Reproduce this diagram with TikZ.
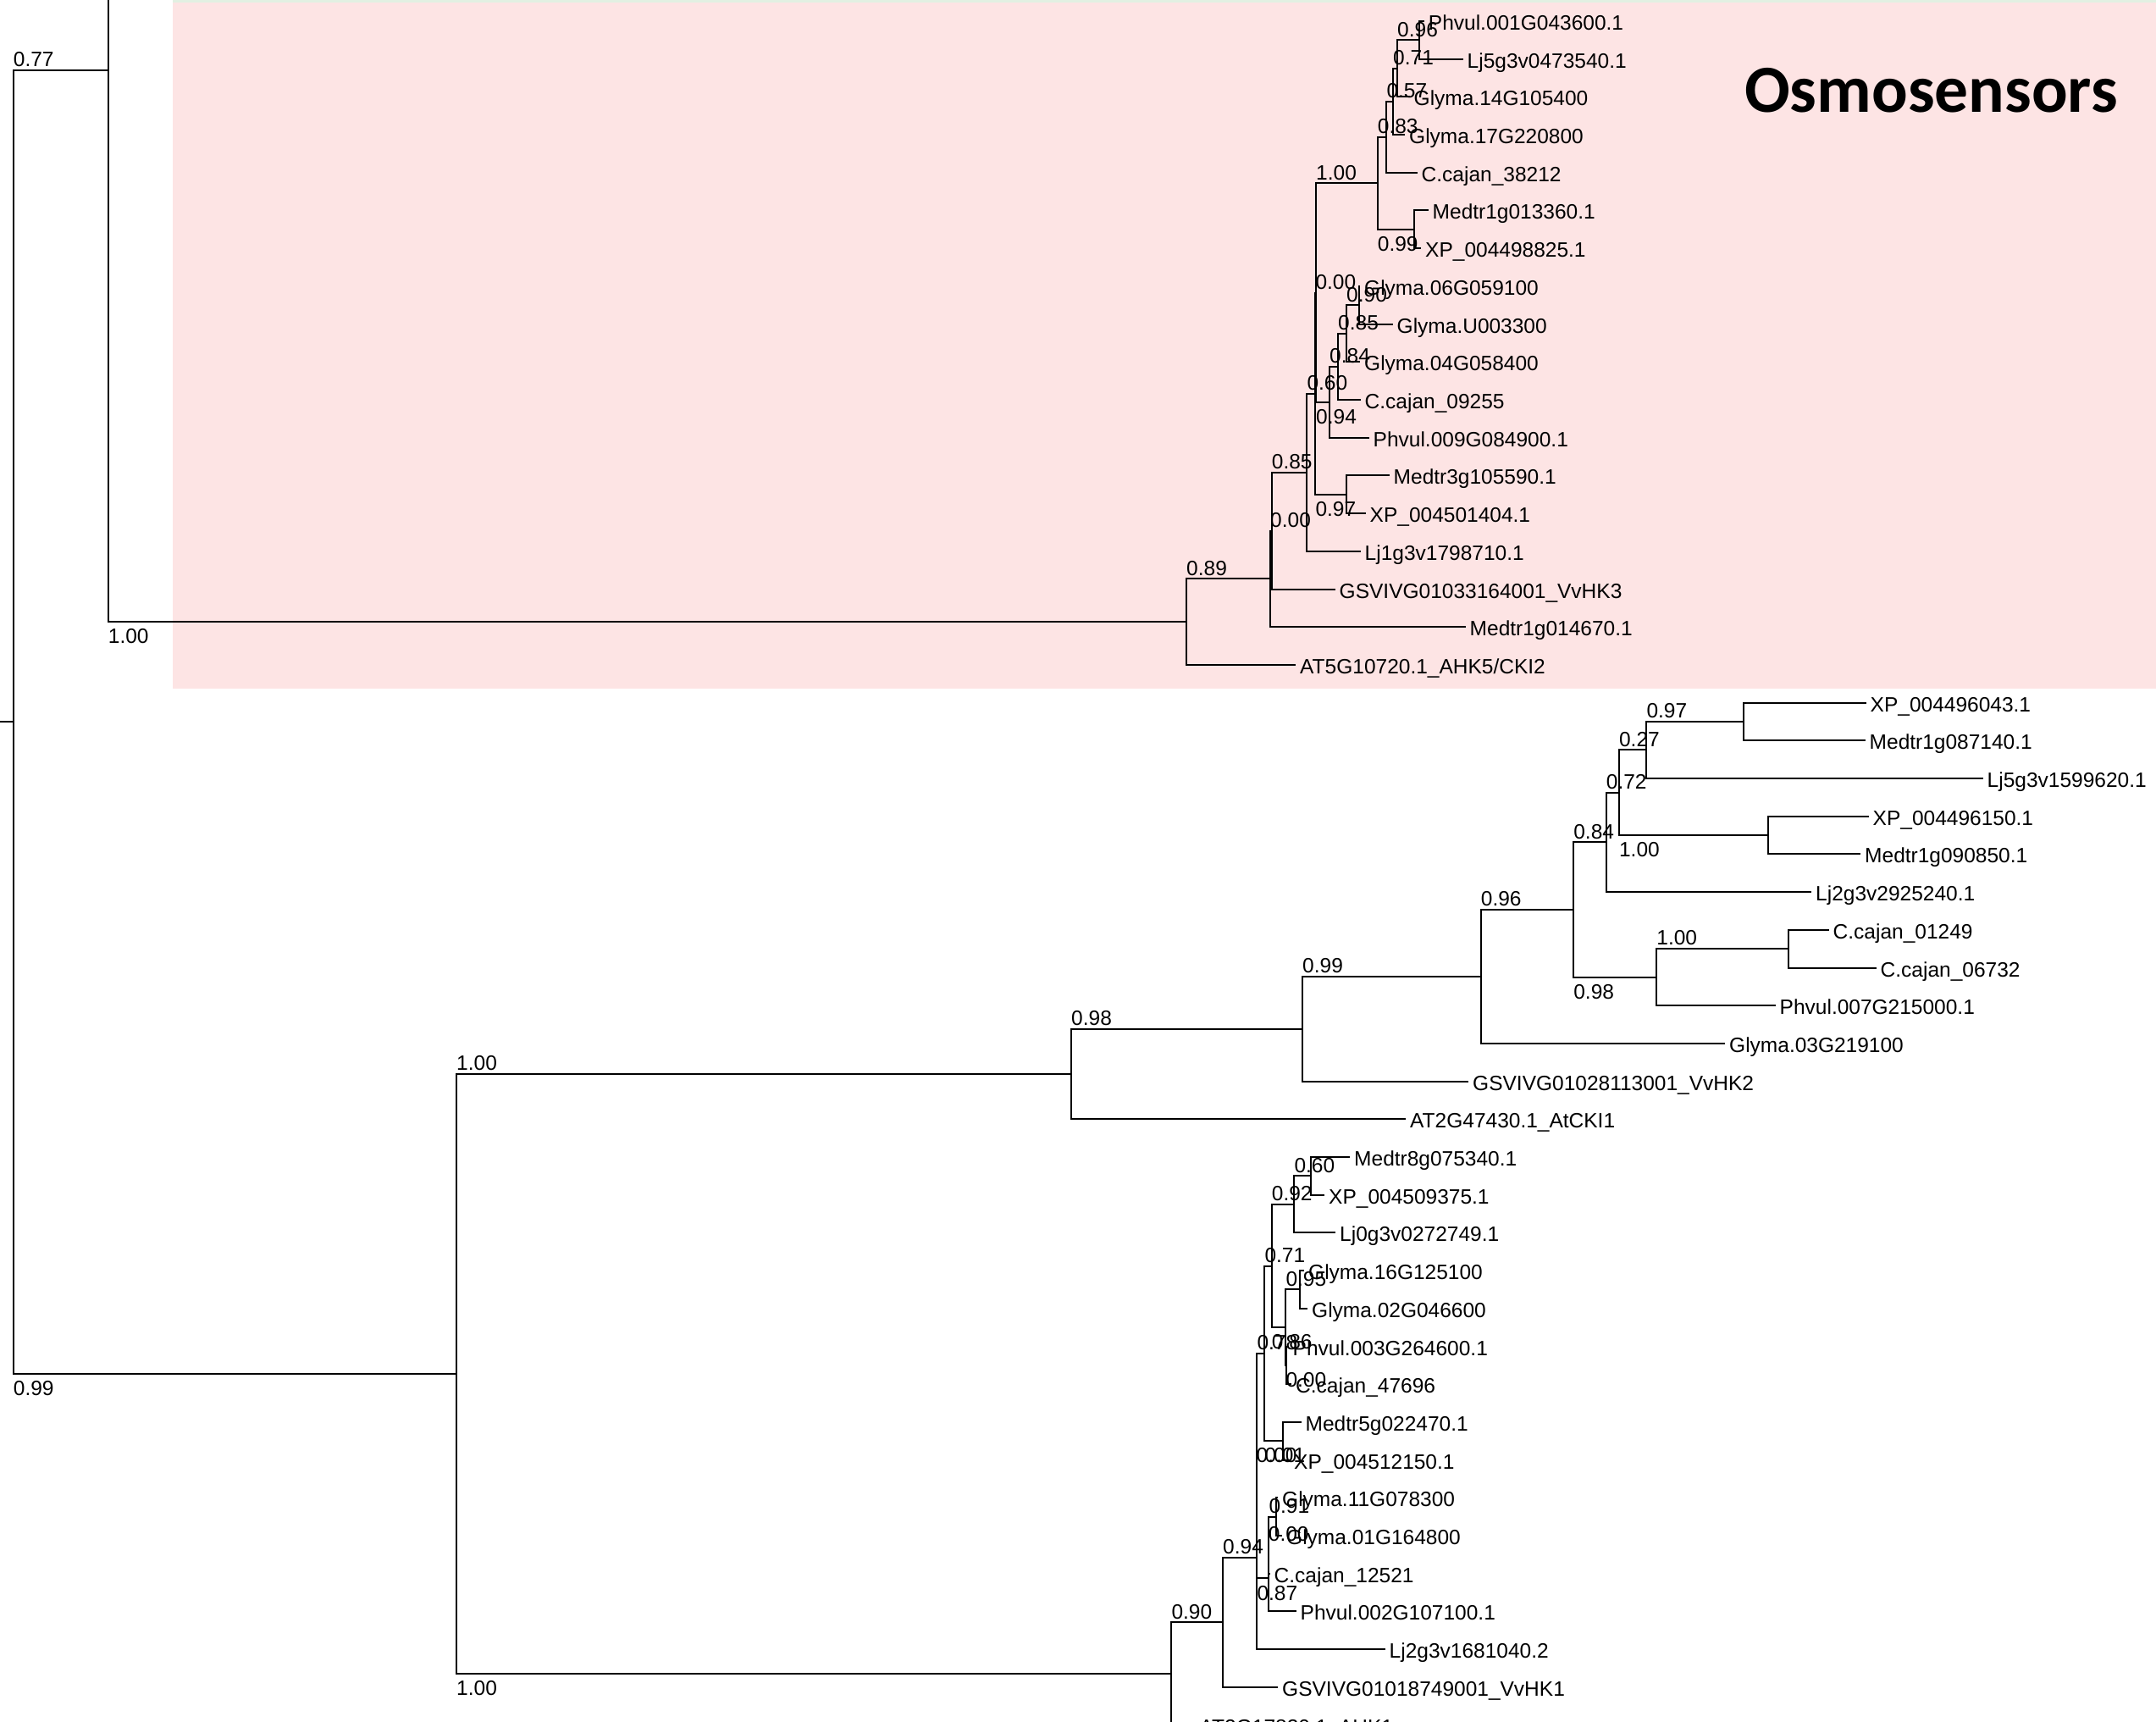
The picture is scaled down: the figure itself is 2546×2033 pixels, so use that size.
\documentclass[tikz,border=0pt]{standalone}
\usepackage{fontspec}
\setmainfont{Liberation Sans}
\newfontfamily\titlefont{Carlito}
\definecolor{pinkbg}{RGB}{253,228,228}
\definecolor{greenbg}{RGB}{226,240,226}
\begin{document}
\begin{tikzpicture}[x=1pt,y=-1pt,
  br/.style={line width=2pt,black},
  leaf/.style={anchor=west,inner xsep=5pt,inner ysep=0pt,text height=21pt,text depth=0pt,font=\fontsize{24.5}{29}\selectfont},
  bsa/.style={anchor=south west,inner sep=0pt,text height=17.5pt,text depth=0pt,yshift=4pt,font=\fontsize{24.5}{29}\selectfont},
  bsb/.style={anchor=north west,inner sep=0pt,text height=17.5pt,text depth=0pt,yshift=-8pt,font=\fontsize{24.5}{29}\selectfont},
  titlestyle/.style={anchor=base west,inner sep=0pt,font=\titlefont\bfseries\fontsize{79.5}{94}\selectfont}]
\useasboundingbox (0,0) rectangle (2546,2033);
\clip (0,0) rectangle (2546,2033);
\fill[pinkbg] (204,3.3) rectangle (2546,812.7);
\fill[greenbg] (204,0) rectangle (2546,3.3);
\node[titlestyle] (title) at (2060,133) {Osmosensors};
% internal nodes
\coordinate (rootL) at (0,852.34);
\coordinate (root) at (15.7,852.34);
\coordinate (n77) at (127.7,82.7);
\coordinate (n77top) at (127.7,-20);
\coordinate (N89) at (1401,734.15);
\coordinate (X) at (1500,683.4);
\coordinate (Y) at (1501.7,626.6);
\coordinate (Z) at (1543.3,557.7);
\coordinate (W) at (1553.3,464.67);
\coordinate (W2) at (1554,345.58);
\coordinate (C100) at (1626.7,216.37);
\coordinate (n83) at (1637.3,161.9);
\coordinate (n57) at (1645,119.99);
\coordinate (n71) at (1650,80.875);
\coordinate (n96) at (1675.7,47.35);
\coordinate (n99a) at (1670,270.85);
\coordinate (n94) at (1570,474.8);
\coordinate (n84) at (1580,432.89);
\coordinate (n85b) at (1590,393.78);
\coordinate (n90) at (1605,360.25);
\coordinate (n97) at (1590,583.75);
\coordinate (P) at (539,1621.98);
\coordinate (n98c) at (1265,1268.05);
\coordinate (n99c) at (1538,1214.79);
\coordinate (n99b) at (1748.7,1152.98);
\coordinate (n96b) at (1858.1,1074.05);
\coordinate (n84b) at (1896.7,994.43);
\coordinate (n72) at (1911.9,935.76);
\coordinate (n27) at (1944.3,885.475);
\coordinate (n97b) at (2058.6,851.95);
\coordinate (n100a) at (2088,986.05);
\coordinate (n98) at (1956.2,1153.68);
\coordinate (n100b) at (2111.9,1120.15);
\coordinate (Q) at (1383.3,1975.91);
\coordinate (R) at (1444,1915.32);
\coordinate (S) at (1483.5,1838.84);
\coordinate (S2) at (1484.3,1730.58);
\coordinate (V) at (1493.3,1597.88);
\coordinate (n71b) at (1501.7,1494.51);
\coordinate (n92) at (1528.3,1421.875);
\coordinate (n60) at (1548.3,1388.35);
\coordinate (K1) at (1518.3,1567.15);
\coordinate (K2) at (1518.8,1611.85);
\coordinate (n95) at (1535,1522.45);
\coordinate (n01) at (1515,1701.25);
\coordinate (T2) at (1497.7,1863.29);
\coordinate (T1) at (1498.3,1824.18);
\coordinate (U) at (1507.3,1790.65);
% leaves
\node[leaf] (l1) at (1681.7,25) {Phvul.001G043600.1};
\node[leaf] (l2) at (1727.5,69.7) {Lj5g3v0473540.1};
\node[leaf] (l3) at (1664.5,114.4) {Glyma.14G105400};
\node[leaf] (l4) at (1659,159.1) {Glyma.17G220800};
\node[leaf] (l5) at (1673.5,203.8) {C.cajan\_38212};
\node[leaf] (l6) at (1686.5,248.5) {Medtr1g013360.1};
\node[leaf] (l7) at (1678,293.2) {XP\_004498825.1};
\node[leaf] (l8) at (1606,337.9) {Glyma.06G059100};
\node[leaf] (l9) at (1644.5,382.6) {Glyma.U003300};
\node[leaf] (l10) at (1606,427.3) {Glyma.04G058400};
\node[leaf] (l11) at (1606.5,472) {C.cajan\_09255};
\node[leaf] (l12) at (1616.5,516.7) {Phvul.009G084900.1};
\node[leaf] (l13) at (1640.5,561.4) {Medtr3g105590.1};
\node[leaf] (l14) at (1612.5,606.1) {XP\_004501404.1};
\node[leaf] (l15) at (1606.5,650.8) {Lj1g3v1798710.1};
\node[leaf] (l16) at (1576.5,695.5) {GSVIVG01033164001\_VvHK3};
\node[leaf] (l17) at (1730.5,740.2) {Medtr1g014670.1};
\node[leaf] (l18) at (1530,784.9) {AT5G10720.1\_AHK5/CKI2};
\node[leaf] (l19) at (2203.5,829.6) {XP\_004496043.1};
\node[leaf] (l20) at (2202.5,874.3) {Medtr1g087140.1};
\node[leaf] (l21) at (2341.5,919.0) {Lj5g3v1599620.1};
\node[leaf] (l22) at (2206.5,963.7) {XP\_004496150.1};
\node[leaf] (l23) at (2197,1008.4) {Medtr1g090850.1};
\node[leaf] (l24) at (2139,1053.1) {Lj2g3v2925240.1};
\node[leaf] (l25) at (2159.5,1097.8) {C.cajan\_01249};
\node[leaf] (l26) at (2215.5,1142.5) {C.cajan\_06732};
\node[leaf] (l27) at (2096.5,1187.2) {Phvul.007G215000.1};
\node[leaf] (l28) at (2037,1231.9) {Glyma.03G219100};
\node[leaf] (l29) at (1734,1276.6) {GSVIVG01028113001\_VvHK2};
\node[leaf] (l30) at (1660,1321.3) {AT2G47430.1\_AtCKI1};
\node[leaf] (l31) at (1594,1366.0) {Medtr8g075340.1};
\node[leaf] (l32) at (1564,1410.7) {XP\_004509375.1};
\node[leaf] (l33) at (1577,1455.4) {Lj0g3v0272749.1};
\node[leaf] (l34) at (1540,1500.1) {Glyma.16G125100};
\node[leaf] (l35) at (1544,1544.8) {Glyma.02G046600};
\node[leaf] (l36) at (1521.5,1589.5) {Phvul.003G264600.1};
\node[leaf] (l37) at (1525,1634.2) {C.cajan\_47696};
\node[leaf] (l38) at (1536.5,1678.9) {Medtr5g022470.1};
\node[leaf] (l39) at (1523,1723.6) {XP\_004512150.1};
\node[leaf] (l40) at (1509,1768.3) {Glyma.11G078300};
\node[leaf] (l41) at (1514,1813.0) {Glyma.01G164800};
\node[leaf] (l42) at (1499.5,1857.7) {C.cajan\_12521};
\node[leaf] (l43) at (1530.5,1902.4) {Phvul.002G107100.1};
\node[leaf] (l44) at (1635.5,1947.1) {Lj2g3v1681040.2};
\node[leaf] (l45) at (1509,1991.8) {GSVIVG01018749001\_VvHK1};
\node[leaf] (l46) at (1411.5,2036.5) {AT2G17820.1\_AHK1};
% branches between internal nodes
\draw[br] (rootL) -- (root);
\draw[br] (n77) -- (n77top);
\foreach \p/\c in {root/n77,root/P,n77/N89,N89/X,X/Y,Y/Z,Z/W,W/W2,W/n97,W2/C100,W2/n94,
  n94/n84,n84/n85b,n85b/n90,C100/n83,C100/n99a,n83/n57,n57/n71,n71/n96,
  P/n98c,P/Q,n98c/n99c,n99c/n99b,n99b/n96b,n96b/n84b,n96b/n98,n84b/n72,n72/n27,n72/n100a,
  n27/n97b,n98/n100b,Q/R,R/S,S/S2,S2/V,S2/T2,V/n71b,V/n01,n71b/n92,n71b/K1,n92/n60,
  K1/n95,K1/K2,T2/T1,T1/U}
  \draw[br] (\p) |- (\c);
% branches to leaves
\foreach \p/\c in {n96/l1,n96/l2,n71/l3,n57/l4,n83/l5,n99a/l6,n99a/l7,n90/l8,n90/l9,n85b/l10,
  n84/l11,n94/l12,n97/l13,n97/l14,Z/l15,Y/l16,X/l17,N89/l18,
  n97b/l19,n97b/l20,n27/l21,n100a/l22,n100a/l23,n84b/l24,n100b/l25,n100b/l26,n98/l27,
  n99b/l28,n99c/l29,n98c/l30,
  n60/l31,n60/l32,n92/l33,n95/l34,n95/l35,K2/l36,K2/l37,n01/l38,n01/l39,U/l40,U/l41,
  T1/l42,T2/l43,S/l44,R/l45,Q/l46}
  \draw[br] (\p) |- (\c.west);
% support values
\foreach \p/\c/\t/\k [count=\i] in {root/n77/0.77/a,root/P/0.99/b,n77/N89/1.00/b,N89/X/0.89/a,
  X/Y/0.00/a,Y/Z/0.85/a,Z/W/0.60/a,W/W2/0.00/a,W/n97/0.97/b,W2/C100/1.00/a,W2/n94/0.94/b,
  n94/n84/0.84/a,n84/n85b/0.85/a,n85b/n90/0.90/a,C100/n83/0.83/a,C100/n99a/0.99/b,
  n83/n57/0.57/a,n57/n71/0.71/a,n71/n96/0.96/a,
  P/n98c/1.00/a,P/Q/1.00/b,n98c/n99c/0.98/a,n99c/n99b/0.99/a,n99b/n96b/0.96/a,
  n96b/n84b/0.84/a,n96b/n98/0.98/b,n84b/n72/0.72/a,n72/n27/0.27/a,n72/n100a/1.00/b,
  n27/n97b/0.97/a,n98/n100b/1.00/a,
  Q/R/0.90/a,R/S/0.94/a,S/S2/0.00/a,S2/V/0.78/a,S2/T2/0.87/b,V/n71b/0.71/a,V/n01/0.01/b,
  n71b/n92/0.92/a,n71b/K1/0.86/b,n92/n60/0.60/a,K1/n95/0.95/a,K1/K2/0.00/b,
  T2/T1/0.00/a,T1/U/0.91/a}
  \node[bs\k] (b\i) at (\p |- \c) {\t};
\end{tikzpicture}
\end{document}
